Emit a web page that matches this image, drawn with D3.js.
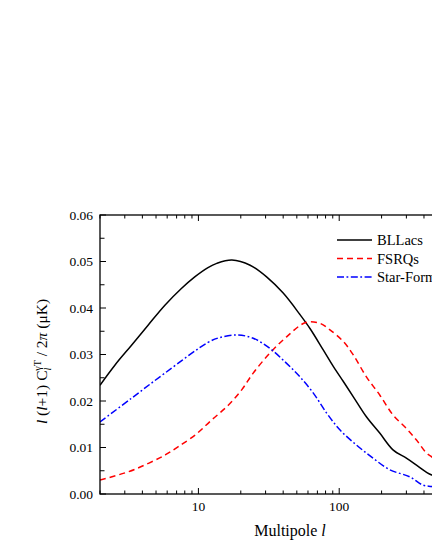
<!DOCTYPE html>
<html>
<head>
<meta charset="utf-8">
<script src="https://cdn.jsdelivr.net/npm/d3@7"></script>
<style>
  html, body { margin: 0; padding: 0; background: #fff; overflow: hidden; }
  svg { display: block; font-family: "Liberation Serif", "Times New Roman", serif; }
</style>
</head>
<body>
<svg id="chart" width="432" height="559"></svg>
<script>
// values (multipole l, amplitude)
const bllacsL   = [2, 2.55, 3.35, 4.39, 5.78, 7.57, 9.42, 11.7, 13.5, 17.3, 23.3, 30.5, 40, 52.6, 62, 77, 91, 107, 126, 156, 194, 241, 300, 354, 420, 454, 500];
const bllacsVal = [0.0234, 0.0277, 0.032, 0.0363, 0.0406, 0.0442, 0.0467, 0.0487, 0.0496, 0.0503, 0.0492, 0.0467, 0.0432, 0.0386, 0.0356, 0.031, 0.0274, 0.0242, 0.0209, 0.0166, 0.0131, 0.0095, 0.0077, 0.0062, 0.0046, 0.0041, 0.0038];

const fsrqL   = [2, 3.19, 4.42, 5.81, 7.2, 9.5, 12.4, 16.3, 20.3, 24.5, 32.2, 42.3, 58, 73, 86, 107, 126, 156, 194, 241, 300, 354, 417, 454, 500];
const fsrqVal = [0.0030, 0.0048, 0.0066, 0.0084, 0.0102, 0.0127, 0.0159, 0.0191, 0.0224, 0.026, 0.0303, 0.0338, 0.0369, 0.0367, 0.0353, 0.0328, 0.0299, 0.0252, 0.0213, 0.017, 0.0141, 0.0116, 0.0088, 0.008, 0.0068];

const sfL   = [2, 3.35, 5.78, 11.7, 14, 18.7, 24.5, 32.2, 42.3, 52.6, 65.5, 81.5, 101, 133, 174, 229, 317, 394, 454, 500];
const sfVal = [0.0155, 0.0206, 0.026, 0.0326, 0.0336, 0.0342, 0.0335, 0.0313, 0.0281, 0.0252, 0.0217, 0.0174, 0.0138, 0.0105, 0.0077, 0.0052, 0.0037, 0.0019, 0.0016, 0.0013];

const seriesNames = ['BLLacs', 'FSRQs', 'Star-Forming'];
const yTicks = [0, 0.01, 0.02, 0.03, 0.04, 0.05, 0.06];

const margin = {top: 215, left: 100};
const width = 380;   // right edge runs past the window, as in the original
const height = 279;

const series = [
  {name: seriesNames[0], l: bllacsL, v: bllacsVal, color: '#000000', dash: null},
  {name: seriesNames[1], l: fsrqL, v: fsrqVal, color: '#ff0000', dash: '6,4'},
  {name: seriesNames[2], l: sfL, v: sfVal, color: '#0000ff', dash: '7,2.5,1.8,2.5'}
];

const svg = d3.select('#chart');
const g = svg.append('g')
    .attr('transform', `translate(${margin.left},${margin.top})`);

const x = d3.scaleLog()
    .domain([2, 1000])
    .range([0, width]);

const y = d3.scaleLinear()
    .domain([0, 0.06])
    .range([height, 0]);

// log ticks: majors at decades, minors elsewhere
const xTickVals = x.ticks().filter(d => d >= 2 && d <= 1000);
const isMajor = d => Math.abs(Math.log10(d) - Math.round(Math.log10(d))) < 1e-9;
const yMinor = d3.range(0.005, 0.06, 0.01);

g.append('clipPath').attr('id', 'plot-clip')
  .append('rect').attr('width', width).attr('height', height);

// curves
const line = d3.line()
    .x(d => x(d[0]))
    .y(d => y(d[1]))
    .curve(d3.curveCatmullRom.alpha(0.5));

g.append('g')
    .attr('clip-path', 'url(#plot-clip)')
  .selectAll('path')
  .data(series)
  .join('path')
    .attr('d', s => line(s.l.map((l, i) => [l, s.v[i]])))
    .attr('fill', 'none')
    .attr('stroke', s => s.color)
    .attr('stroke-width', 1.5)
    .attr('stroke-dasharray', s => s.dash);

// frame
g.append('rect')
    .attr('width', width)
    .attr('height', height)
    .attr('fill', 'none')
    .attr('stroke', '#000')
    .attr('stroke-width', 1.3);

const tickStyle = sel => sel.attr('stroke', '#000').attr('stroke-width', 1);

// bottom / top ticks (inward)
g.append('g').selectAll('line')
  .data(xTickVals)
  .join('line')
    .attr('x1', d => x(d)).attr('x2', d => x(d))
    .attr('y1', height).attr('y2', d => height - (isMajor(d) ? 6 : 3.5))
    .call(tickStyle);

g.append('g').selectAll('line')
  .data(xTickVals)
  .join('line')
    .attr('x1', d => x(d)).attr('x2', d => x(d))
    .attr('y1', 0).attr('y2', d => isMajor(d) ? 6 : 3.5)
    .call(tickStyle);

g.append('g').selectAll('text')
  .data(xTickVals.filter(isMajor))
  .join('text')
    .attr('x', d => x(d))
    .attr('y', height + 17)
    .attr('text-anchor', 'middle')
    .attr('font-size', 13.5)
    .text(d => d);

// left / right ticks (inward)
g.append('g').selectAll('line')
  .data(yTicks.concat(yMinor))
  .join('line')
    .attr('x1', 0).attr('x2', d => yTicks.includes(d) ? 6 : 4.5)
    .attr('y1', d => y(d)).attr('y2', d => y(d))
    .call(tickStyle);

g.append('g').selectAll('line')
  .data(yTicks.concat(yMinor))
  .join('line')
    .attr('x1', width).attr('x2', d => width - (yTicks.includes(d) ? 6 : 4.5))
    .attr('y1', d => y(d)).attr('y2', d => y(d))
    .call(tickStyle);

g.append('g').selectAll('text')
  .data(yTicks)
  .join('text')
    .attr('x', -7)
    .attr('y', d => y(d))
    .attr('dy', '0.35em')
    .attr('text-anchor', 'end')
    .attr('font-size', 13.5)
    .text(d => d3.format('.2f')(d));

// x title
const xTitle = g.append('text')
    .attr('x', width / 2)
    .attr('y', height + 42)
    .attr('text-anchor', 'middle')
    .attr('font-size', 16);
xTitle.append('tspan').text('Multipole ');
xTitle.append('tspan').attr('font-style', 'italic').text('l');

// y title
const yTitle = g.append('text')
    .attr('transform', `translate(-53,${height / 2 + 7}) rotate(-90)`)
    .attr('text-anchor', 'middle')
    .attr('font-size', 15.5);
yTitle.append('tspan').attr('font-style', 'italic').text('l');
yTitle.append('tspan').text(' (');
yTitle.append('tspan').attr('font-style', 'italic').text('l');
yTitle.append('tspan').text('+1) C');
yTitle.append('tspan').attr('font-style', 'italic').attr('font-size', 10).attr('dy', 4).text('l');
yTitle.append('tspan').attr('font-size', 10).attr('dx', -3).attr('dy', -10).text('γT');
yTitle.append('tspan').attr('dy', 6).text(' / 2');
yTitle.append('tspan').attr('font-style', 'italic').text('π');
yTitle.append('tspan').text(' (μK)');

// legend
const legend = g.append('g')
    .attr('transform', `translate(237,25)`);

const legendRow = legend.selectAll('g')
  .data(series)
  .join('g')
    .attr('transform', (d, i) => `translate(0,${i * 18.5})`);

legendRow.append('line')
    .attr('x1', 0).attr('x2', 35)
    .attr('stroke', d => d.color)
    .attr('stroke-width', 1.5)
    .attr('stroke-dasharray', d => d.dash);

legendRow.append('text')
    .attr('x', 40)
    .attr('dy', '0.35em')
    .attr('font-size', 14.5)
    .text(d => d.name);
</script>
</body>
</html>
